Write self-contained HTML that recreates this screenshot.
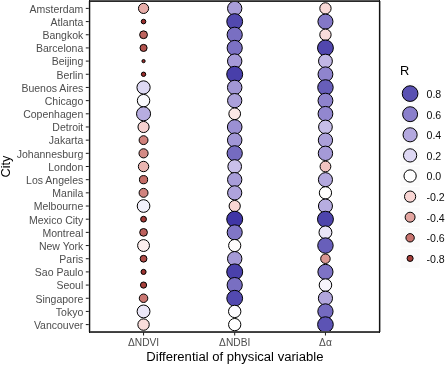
<!DOCTYPE html>
<html><head><meta charset="utf-8"><title>Chart</title>
<style>
html,body{margin:0;padding:0;background:#fff;}
svg{display:block;will-change:transform;filter:grayscale(0);}
text{font-family:"Liberation Sans",sans-serif;}
.yl{font-size:10.5px;fill:#4d4d4d;text-anchor:end;}
.xl{font-size:10.2px;fill:#4d4d4d;text-anchor:middle;}
.ll{font-size:10.6px;fill:#0d0d0d;text-anchor:start;}
.t{font-size:12.8px;fill:#000;}
.tt{font-size:13.08px;fill:#000;}
</style></head><body>
<svg width="445" height="365" viewBox="0 0 445 365">
<rect x="0" y="0" width="445" height="365" fill="#ffffff"/>

<g stroke="#000" stroke-width="1.00">
<circle cx="143.55" cy="8.40" r="5.09" fill="#e7ada9"/>
<circle cx="234.70" cy="8.40" r="7.16" fill="#a99ed9"/>
<circle cx="325.45" cy="8.40" r="5.66" fill="#f9d9d7"/>
<circle cx="143.55" cy="21.58" r="2.30" fill="#9b2f2d"/>
<circle cx="234.70" cy="21.58" r="7.91" fill="#5249af"/>
<circle cx="325.45" cy="21.58" r="7.53" fill="#8378c7"/>
<circle cx="143.55" cy="34.75" r="3.91" fill="#bd635e"/>
<circle cx="234.70" cy="34.75" r="7.60" fill="#796fc2"/>
<circle cx="325.45" cy="34.75" r="5.68" fill="#f9dbda"/>
<circle cx="143.55" cy="47.93" r="3.56" fill="#b2524d"/>
<circle cx="234.70" cy="47.93" r="7.59" fill="#7b71c3"/>
<circle cx="325.45" cy="47.93" r="7.92" fill="#5147ae"/>
<circle cx="143.55" cy="61.10" r="1.62" fill="#982b29"/>
<circle cx="234.70" cy="61.10" r="7.20" fill="#a59ad8"/>
<circle cx="325.45" cy="61.10" r="6.92" fill="#c1b7e5"/>
<circle cx="143.55" cy="74.28" r="2.20" fill="#9a2e2c"/>
<circle cx="234.70" cy="74.28" r="7.98" fill="#483faa"/>
<circle cx="325.45" cy="74.28" r="7.42" fill="#8f84cd"/>
<circle cx="143.55" cy="87.45" r="6.62" fill="#ddd8f3"/>
<circle cx="234.70" cy="87.45" r="7.25" fill="#a196d5"/>
<circle cx="325.45" cy="87.45" r="7.74" fill="#675eb9"/>
<circle cx="143.55" cy="100.63" r="6.22" fill="#faf9fd"/>
<circle cx="234.70" cy="100.63" r="7.14" fill="#aba0da"/>
<circle cx="325.45" cy="100.63" r="7.43" fill="#8e83cd"/>
<circle cx="143.55" cy="113.80" r="7.02" fill="#b7ade0"/>
<circle cx="234.70" cy="113.80" r="5.85" fill="#fbe7e6"/>
<circle cx="325.45" cy="113.80" r="7.39" fill="#9287cf"/>
<circle cx="143.55" cy="126.98" r="5.57" fill="#f7d2d0"/>
<circle cx="234.70" cy="126.98" r="7.30" fill="#9b90d3"/>
<circle cx="325.45" cy="126.98" r="6.86" fill="#c6bee8"/>
<circle cx="143.55" cy="140.15" r="4.44" fill="#d0817c"/>
<circle cx="234.70" cy="140.15" r="7.24" fill="#a196d6"/>
<circle cx="325.45" cy="140.15" r="7.15" fill="#aba0da"/>
<circle cx="143.55" cy="153.33" r="4.58" fill="#d48a85"/>
<circle cx="234.70" cy="153.33" r="7.64" fill="#756bc0"/>
<circle cx="325.45" cy="153.33" r="7.20" fill="#a59ad8"/>
<circle cx="143.55" cy="166.50" r="5.20" fill="#eab5b1"/>
<circle cx="234.70" cy="166.50" r="6.84" fill="#c9c0e9"/>
<circle cx="325.45" cy="166.50" r="5.39" fill="#f1c4c1"/>
<circle cx="143.55" cy="179.68" r="4.10" fill="#c46d68"/>
<circle cx="234.70" cy="179.68" r="7.17" fill="#a89dd9"/>
<circle cx="325.45" cy="179.68" r="7.06" fill="#b3a8de"/>
<circle cx="143.55" cy="192.85" r="4.47" fill="#d1837e"/>
<circle cx="234.70" cy="192.85" r="7.11" fill="#aea3dc"/>
<circle cx="325.45" cy="192.85" r="6.14" fill="#ffffff"/>
<circle cx="143.55" cy="206.03" r="6.33" fill="#f2f0fa"/>
<circle cx="234.70" cy="206.03" r="5.61" fill="#f8d6d4"/>
<circle cx="325.45" cy="206.03" r="7.02" fill="#b7ade0"/>
<circle cx="143.55" cy="219.20" r="2.90" fill="#a23a37"/>
<circle cx="234.70" cy="219.20" r="7.98" fill="#4036a6"/>
<circle cx="325.45" cy="219.20" r="7.96" fill="#4d44ac"/>
<circle cx="143.55" cy="232.38" r="3.86" fill="#bc605c"/>
<circle cx="234.70" cy="232.38" r="7.54" fill="#8076c6"/>
<circle cx="325.45" cy="232.38" r="6.46" fill="#e9e5f7"/>
<circle cx="143.55" cy="245.55" r="5.93" fill="#fceeed"/>
<circle cx="234.70" cy="245.55" r="6.10" fill="#fffcfc"/>
<circle cx="325.45" cy="245.55" r="7.73" fill="#685fba"/>
<circle cx="143.55" cy="258.73" r="3.40" fill="#ad4b47"/>
<circle cx="234.70" cy="258.73" r="7.21" fill="#a59ad7"/>
<circle cx="325.45" cy="258.73" r="4.76" fill="#db9691"/>
<circle cx="143.55" cy="271.90" r="2.55" fill="#9d3330"/>
<circle cx="234.70" cy="271.90" r="7.98" fill="#4a41ab"/>
<circle cx="325.45" cy="271.90" r="7.57" fill="#7e73c5"/>
<circle cx="143.55" cy="285.07" r="3.10" fill="#a6403b"/>
<circle cx="234.70" cy="285.07" r="7.60" fill="#796fc2"/>
<circle cx="325.45" cy="285.07" r="6.27" fill="#f6f4fc"/>
<circle cx="143.55" cy="298.25" r="4.26" fill="#ca7772"/>
<circle cx="234.70" cy="298.25" r="7.91" fill="#5249af"/>
<circle cx="325.45" cy="298.25" r="7.08" fill="#b1a6dd"/>
<circle cx="143.55" cy="311.43" r="6.43" fill="#ebe7f8"/>
<circle cx="234.70" cy="311.43" r="6.19" fill="#fcfbfe"/>
<circle cx="325.45" cy="311.43" r="7.64" fill="#746ac0"/>
<circle cx="143.55" cy="324.60" r="5.71" fill="#f9dddb"/>
<circle cx="234.70" cy="324.60" r="6.14" fill="#ffffff"/>
<circle cx="325.45" cy="324.60" r="7.82" fill="#5c53b4"/>
</g>
<g shape-rendering="crispEdges">
<rect x="89" y="0" width="291" height="1" fill="#585858"/>
<rect x="89" y="1" width="291" height="1" fill="#282828"/>
<rect x="89" y="331" width="291" height="1" fill="#484848"/>
<rect x="89" y="332" width="291" height="1" fill="#3e3e3e"/>
<rect x="88" y="1" width="1" height="331" fill="#dcdcdc"/>
<rect x="89" y="0" width="1" height="333" fill="#141414"/>
<rect x="90" y="2" width="1" height="329" fill="#bdbdbd"/>
<rect x="378" y="2" width="1" height="329" fill="#e6e6e6"/>
<rect x="379" y="0" width="1" height="333" fill="#141414"/>
<rect x="380" y="1" width="1" height="331" fill="#a0a0a0"/>
</g>
<g stroke="#1a1a1a" stroke-width="1">
<line x1="85.8" x2="88.8" y1="8.40" y2="8.40"/>
<line x1="85.8" x2="88.8" y1="21.58" y2="21.58"/>
<line x1="85.8" x2="88.8" y1="34.75" y2="34.75"/>
<line x1="85.8" x2="88.8" y1="47.93" y2="47.93"/>
<line x1="85.8" x2="88.8" y1="61.10" y2="61.10"/>
<line x1="85.8" x2="88.8" y1="74.28" y2="74.28"/>
<line x1="85.8" x2="88.8" y1="87.45" y2="87.45"/>
<line x1="85.8" x2="88.8" y1="100.63" y2="100.63"/>
<line x1="85.8" x2="88.8" y1="113.80" y2="113.80"/>
<line x1="85.8" x2="88.8" y1="126.98" y2="126.98"/>
<line x1="85.8" x2="88.8" y1="140.15" y2="140.15"/>
<line x1="85.8" x2="88.8" y1="153.33" y2="153.33"/>
<line x1="85.8" x2="88.8" y1="166.50" y2="166.50"/>
<line x1="85.8" x2="88.8" y1="179.68" y2="179.68"/>
<line x1="85.8" x2="88.8" y1="192.85" y2="192.85"/>
<line x1="85.8" x2="88.8" y1="206.03" y2="206.03"/>
<line x1="85.8" x2="88.8" y1="219.20" y2="219.20"/>
<line x1="85.8" x2="88.8" y1="232.38" y2="232.38"/>
<line x1="85.8" x2="88.8" y1="245.55" y2="245.55"/>
<line x1="85.8" x2="88.8" y1="258.73" y2="258.73"/>
<line x1="85.8" x2="88.8" y1="271.90" y2="271.90"/>
<line x1="85.8" x2="88.8" y1="285.07" y2="285.07"/>
<line x1="85.8" x2="88.8" y1="298.25" y2="298.25"/>
<line x1="85.8" x2="88.8" y1="311.43" y2="311.43"/>
<line x1="85.8" x2="88.8" y1="324.60" y2="324.60"/>
<line x1="143.55" x2="143.55" y1="332.4" y2="335.5"/>
<line x1="234.70" x2="234.70" y1="332.4" y2="335.5"/>
<line x1="325.45" x2="325.45" y1="332.4" y2="335.5"/>
</g>
<text class="yl" x="83.3" y="12.70">Amsterdam</text>
<text class="yl" x="83.3" y="25.88">Atlanta</text>
<text class="yl" x="83.3" y="39.05">Bangkok</text>
<text class="yl" x="83.3" y="52.23">Barcelona</text>
<text class="yl" x="83.3" y="65.40">Beijing</text>
<text class="yl" x="83.3" y="78.58">Berlin</text>
<text class="yl" x="83.3" y="91.75">Buenos Aires</text>
<text class="yl" x="83.3" y="104.93">Chicago</text>
<text class="yl" x="83.3" y="118.10">Copenhagen</text>
<text class="yl" x="83.3" y="131.28">Detroit</text>
<text class="yl" x="83.3" y="144.45">Jakarta</text>
<text class="yl" x="83.3" y="157.63">Johannesburg</text>
<text class="yl" x="83.3" y="170.80">London</text>
<text class="yl" x="83.3" y="183.98">Los Angeles</text>
<text class="yl" x="83.3" y="197.15">Manila</text>
<text class="yl" x="83.3" y="210.33">Melbourne</text>
<text class="yl" x="83.3" y="223.50">Mexico City</text>
<text class="yl" x="83.3" y="236.68">Montreal</text>
<text class="yl" x="83.3" y="249.85">New York</text>
<text class="yl" x="83.3" y="263.03">Paris</text>
<text class="yl" x="83.3" y="276.20">Sao Paulo</text>
<text class="yl" x="83.3" y="289.38">Seoul</text>
<text class="yl" x="83.3" y="302.55">Singapore</text>
<text class="yl" x="83.3" y="315.73">Tokyo</text>
<text class="yl" x="83.3" y="328.90">Vancouver</text>
<text class="xl" x="143.55" y="345.6">ΔNDVI</text>
<text class="xl" x="234.70" y="345.6">ΔNDBI</text>
<text class="xl" x="325.45" y="345.6">Δα</text>
<text class="tt" x="234.9" y="361.4" text-anchor="middle">Differential of physical variable</text>
<text class="t" transform="translate(10.4,166.5) rotate(-90)" text-anchor="middle">City</text>
<text class="t" x="400" y="75.4">R</text>
<rect x="400.5" y="84.00" width="19.2" height="19.2" fill="#fbfbfb"/>
<rect x="400.5" y="104.60" width="19.2" height="19.2" fill="#fbfbfb"/>
<rect x="400.5" y="125.20" width="19.2" height="19.2" fill="#fbfbfb"/>
<rect x="400.5" y="145.80" width="19.2" height="19.2" fill="#fbfbfb"/>
<rect x="400.5" y="166.40" width="19.2" height="19.2" fill="#fbfbfb"/>
<rect x="400.5" y="187.00" width="19.2" height="19.2" fill="#fbfbfb"/>
<rect x="400.5" y="207.60" width="19.2" height="19.2" fill="#fbfbfb"/>
<rect x="400.5" y="228.20" width="19.2" height="19.2" fill="#fbfbfb"/>
<rect x="400.5" y="248.80" width="19.2" height="19.2" fill="#fbfbfb"/>
<g stroke="#000" stroke-width="1.00">
<circle cx="410.1" cy="93.60" r="7.85" fill="#5950b2"/>
<circle cx="410.1" cy="114.20" r="7.47" fill="#8a7fcb"/>
<circle cx="410.1" cy="134.80" r="7.06" fill="#b3a8de"/>
<circle cx="410.1" cy="155.40" r="6.62" fill="#ddd7f3"/>
<circle cx="410.1" cy="176.00" r="6.14" fill="#ffffff"/>
<circle cx="410.1" cy="196.60" r="5.60" fill="#f8d5d3"/>
<circle cx="410.1" cy="217.20" r="4.97" fill="#e3a5a0"/>
<circle cx="410.1" cy="237.80" r="4.20" fill="#c8736e"/>
<circle cx="410.1" cy="258.40" r="3.06" fill="#a53e3a"/>
</g>
<text class="ll" x="426.5" y="97.95">0.8</text>
<text class="ll" x="426.5" y="118.55">0.6</text>
<text class="ll" x="426.5" y="139.15">0.4</text>
<text class="ll" x="426.5" y="159.75">0.2</text>
<text class="ll" x="426.5" y="180.35">0.0</text>
<text class="ll" x="426.5" y="200.95">-0.2</text>
<text class="ll" x="426.5" y="221.55">-0.4</text>
<text class="ll" x="426.5" y="242.15">-0.6</text>
<text class="ll" x="426.5" y="262.75">-0.8</text>
</svg></body></html>
